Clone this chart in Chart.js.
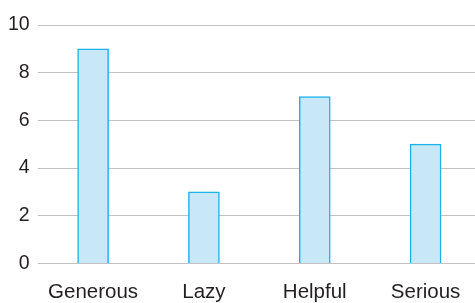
<!DOCTYPE html>
<html>
<head>
<meta charset="utf-8">
<script src="https://cdn.jsdelivr.net/npm/chart.js@4"></script>
<style>
  html, body { margin: 0; padding: 0; background: #fff; overflow: hidden; }
  #wrap { width: 481px; height: 314px; }
</style>
</head>
<body>
<div id="wrap"><canvas id="myChart"></canvas></div>
<script>
const categories = ['Generous', 'Lazy', 'Helpful', 'Serious'];
const counts = [9, 3, 7, 5];
const yTicks = [0, 2, 4, 6, 8, 10];

const ctx = document.getElementById('myChart');

const traitChart = new Chart(ctx, {
    type: 'bar',
    data: {
        labels: categories,
        datasets: [{
            data: counts,
            backgroundColor: '#c8e8f8',
            borderColor: '#1cb2ec',
            borderWidth: 1.5,
            barThickness: 31
        }]
    },
    options: {
        responsive: true,
        maintainAspectRatio: false,
        animation: false,
        layout: {
            padding: { top: 25, right: 0, bottom: 0, left: 0 }
        },
        plugins: {
            legend: { display: false },
            tooltip: { enabled: false }
        },
        scales: {
            x: {
                grid: { display: false },
                border: { display: false },
                ticks: {
                    color: '#231f20',
                    font: { family: 'Liberation Sans, Arial, sans-serif', size: 20.5 },
                    padding: 9
                }
            },
            y: {
                min: 0,
                max: 10,
                afterBuildTicks: (axis) => {
                    axis.ticks = yTicks.map(v => ({ value: v }));
                },
                grid: { color: '#c2c2c2', lineWidth: 1, drawTicks: false },
                border: { display: false },
                ticks: {
                    color: '#231f20',
                    font: { family: 'Liberation Sans, Arial, sans-serif', size: 19.5 },
                    padding: 8
                }
            }
        }
    }
});
</script>
</body>
</html>
